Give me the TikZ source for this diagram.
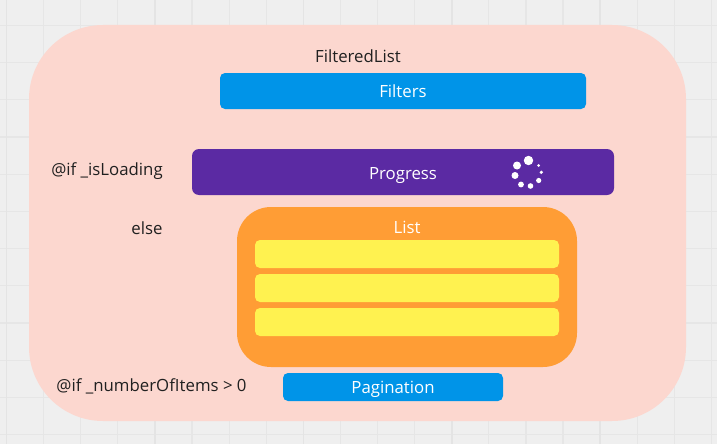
\documentclass[tikz,border=0pt]{standalone}
\usepackage{fontspec}
\setmainfont{Open Sans}
\definecolor{bgc}{HTML}{EFEFEF}
\definecolor{gridc}{HTML}{E6E6E6}
\definecolor{gridd}{HTML}{E4E4E4}
\definecolor{pinkc}{HTML}{FCD7CF}
\definecolor{bluec}{HTML}{0094E8}
\definecolor{purplec}{HTML}{5B2AA3}
\definecolor{orangec}{HTML}{FF9D35}
\definecolor{yellowc}{HTML}{FFF250}
\definecolor{textc}{HTML}{202020}
\tikzset{
  x=1pt,y=-1pt,
  box/.style={inner sep=0pt,outer sep=0pt,anchor=north west},
  bar/.style={box,rounded corners=5pt,fill=bluec},
  itembar/.style={box,rounded corners=5pt,fill=yellowc},
  lab/.style={text=white,font=\fontsize{16.8}{20}\selectfont,inner sep=0pt,anchor=base},
  side/.style={text=textc,font=\fontsize{16.8}{20}\selectfont,inner sep=0pt,anchor=base},
  dot/.style={circle,fill=white,inner sep=0pt,outer sep=0pt},
}
\begin{document}
\begin{tikzpicture}
\useasboundingbox (0,0) rectangle (717,444);
\fill[bgc] (0,0) rectangle (717,444);
\foreach \i in {0,...,19}{\draw[gridc,line width=1.2pt] ({6.5+37.1*\i},0) -- ({6.5+37.1*\i},444);}
\foreach \i in {0,...,11}{\draw[gridc,line width=1.2pt] (0,{25.3+37.2*\i}) -- (717,{25.3+37.2*\i});}
\foreach \i in {0,...,4}{\draw[gridd,line width=1.6pt] ({6.5+148.4*\i},0) -- ({6.5+148.4*\i},444);}
\node[box,fill=pinkc,rounded corners=74pt,minimum width=657pt,minimum height=396pt] (outer) at (29,25) {};
\node[bar,minimum width=366pt,minimum height=36pt] (filters) at (220,73) {};
\node[box,rounded corners=7pt,fill=purplec,minimum width=422pt,minimum height=46pt] (progress) at (192,149) {};
\node[box,rounded corners=34pt,fill=orangec,minimum width=340pt,minimum height=160pt] (list) at (237,207) {};
\node[itembar,minimum width=304pt,minimum height=28pt] (item1) at (255,240) {};
\node[itembar,minimum width=304pt,minimum height=28pt] (item2) at (255,274) {};
\node[itembar,minimum width=304pt,minimum height=28pt] (item3) at (255,308) {};
\node[bar,minimum width=220pt,minimum height=28pt] (pagination) at (283,373) {};
\node[side] (t1) at (358,63) {FilteredList};
\node[lab] (t2) at (403,97.5) {Filters};
\node[side] (t3) at (107,175) {@if \_isLoading};
\node[lab] (t4) at (403,179) {Progress};
\node[side] (t5) at (147,234.5) {else};
\node[lab] (t6) at (407,233.5) {List};
\node[side] (t7) at (151.5,391) {@if \_numberOfItems > 0};
\node[lab] (t8) at (393,393.5) {Pagination};
\node[dot,minimum size=9.4pt] (d1) at (528.5,160.5) {};
\node[dot,minimum size=8pt] (d2) at (517,165.5) {};
\node[dot,minimum size=7pt] (d3) at (515,175.5) {};
\node[dot,minimum size=5.8pt] (d4) at (521,184.5) {};
\node[dot,minimum size=5.6pt] (d5) at (530.5,186) {};
\node[dot,minimum size=5.2pt] (d6) at (538.7,180.5) {};
\node[dot,minimum size=3.6pt] (d7) at (541.3,172.3) {};
\node[dot,minimum size=3pt] (d8) at (538.5,165.5) {};
\end{tikzpicture}
\end{document}
